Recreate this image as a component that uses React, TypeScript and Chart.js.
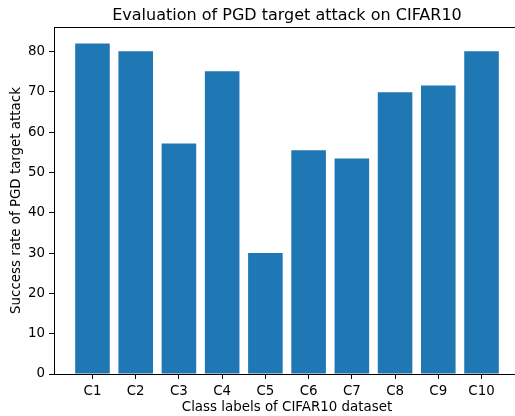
import React, { useEffect, useRef } from "react";
import { Chart, registerables } from "chart.js";

Chart.register(...registerables);

const categories = ["C1", "C2", "C3", "C4", "C5", "C6", "C7", "C8", "C9", "C10"];
const successRates = [82.0, 80.1, 57.2, 75.1, 30.0, 55.5, 53.5, 69.9, 71.6, 80.1];
const yTicks = [0, 10, 20, 30, 40, 50, 60, 70, 80];

const titleText = "Evaluation of PGD target attack on CIFAR10";
const xTitle = "Class labels of CIFAR10 dataset";
const yTitle = "Success rate of PGD target attack";

const FONT = "'DejaVu Sans', sans-serif";

export default function App() {
  const ref = useRef<HTMLCanvasElement | null>(null);

  useEffect(() => {
    if (!ref.current) return;
    const framePlugin = {
      id: "frame",
      afterDraw(chart: any) {
        const { ctx, chartArea } = chart;
        ctx.save();
        ctx.strokeStyle = "#000";
        ctx.lineWidth = 1;
        ctx.beginPath();
        ctx.moveTo(chartArea.left, chartArea.top + 0.5);
        ctx.lineTo(chartArea.right, chartArea.top + 0.5);
        ctx.stroke();
        ctx.fillStyle = "#000";
        ctx.font = `16px ${FONT}`;
        ctx.textAlign = "center";
        ctx.textBaseline = "alphabetic";
        ctx.fillText(titleText, (chartArea.left + chartArea.right) / 2, 20);
        ctx.restore();
      },
    };
    const chart = new Chart(ref.current, {
      type: "bar",
      data: {
        datasets: [
          {
            data: successRates.map((v, i) => ({ x: i, y: v })),
            backgroundColor: "#1f77b4",
            borderColor: "#1f77b4",
            borderWidth: 0,
            inflateAmount: 0,
            barPercentage: 0.8,
            categoryPercentage: 1,
          },
        ],
      },
      options: {
        responsive: false,
        animation: false,
        layout: { padding: { top: 27, right: 0, left: 0, bottom: 0 } },
        plugins: { legend: { display: false }, tooltip: { enabled: false }, title: { display: false } },
        scales: {
          x: {
            type: "linear",
            min: -0.89,
            max: 9.89,
            offset: false,
            afterBuildTicks: (scale: any) => {
              scale.ticks = categories.map((_, i) => ({ value: i }));
            },
            afterFit: (scale: any) => {
              scale.height = 42;
            },
            ticks: {
              autoSkip: false,
              maxRotation: 0,
              padding: 4,
              color: "#000",
              font: { family: FONT, size: 13.4 },
              callback: (v: any) => categories[v as number] ?? "",
            },
            grid: { offset: false, drawOnChartArea: false, drawTicks: true, tickLength: 5, color: "#000" },
            border: { display: true, color: "#000", width: 1 },
            title: {
              display: true,
              text: xTitle,
              color: "#000",
              font: { family: FONT, size: 13.4 },
              padding: { top: 0, bottom: 0 },
            },
          },
          y: {
            min: 0,
            max: 86.1,
            afterBuildTicks: (scale: any) => {
              scale.ticks = yTicks.map((v) => ({ value: v }));
            },
            afterFit: (scale: any) => {
              scale.width = 54;
            },
            ticks: {
              padding: 4,
              color: "#000",
              font: { family: FONT, size: 13.4 },
            },
            grid: { drawOnChartArea: false, drawTicks: true, tickLength: 5, color: "#000" },
            border: { display: true, color: "#000", width: 1 },
            title: {
              display: true,
              text: yTitle,
              color: "#000",
              font: { family: FONT, size: 13.4 },
              padding: { top: 8, bottom: 0 },
            },
          },
        },
      },
      plugins: [framePlugin],
    });
    return () => chart.destroy();
  }, []);

  return (
    <div style={{ position: "absolute", left: 0, top: 0, width: 515, height: 416, overflow: "hidden", background: "#fff" }}>
      <canvas ref={ref} width={520} height={416} style={{ display: "block" }} />
    </div>
  );
}
